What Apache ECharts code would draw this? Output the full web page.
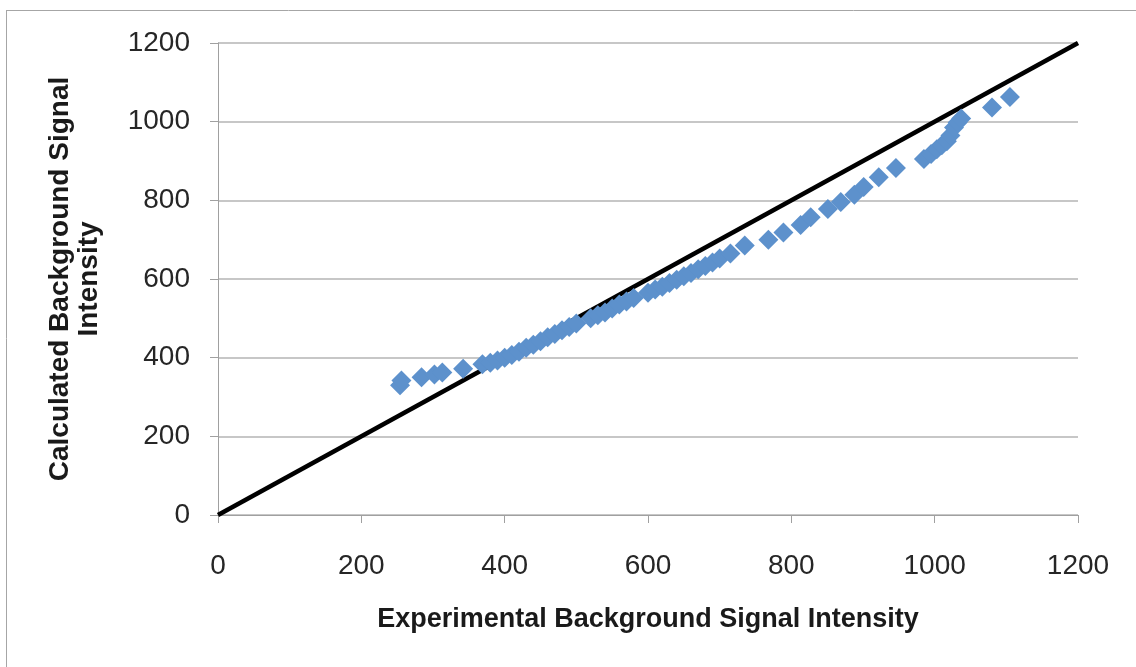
<!DOCTYPE html>
<html>
<head>
<meta charset="utf-8">
<script src="https://cdn.jsdelivr.net/npm/echarts@6/dist/echarts.min.js"></script>
<style>html,body{margin:0;padding:0;background:#fff}#c{width:1136px;height:667px}</style>
</head>
<body>
<div id="c"></div>
<script>
const xTicks = [0, 200, 400, 600, 800, 1000, 1200];
const yTicks = [0, 200, 400, 600, 800, 1000, 1200];
const expX = [254, 256, 284, 302, 313, 342, 369, 380, 390, 400, 410, 420, 430, 440, 450, 460, 470, 480, 490, 500,
  520, 530, 540, 550, 560, 570, 580, 600, 610, 620, 630, 640, 650, 660, 670, 680, 690, 700, 715, 735,
  768, 789, 813, 827, 851, 869, 888, 901, 922, 946, 985, 995, 1003, 1010, 1017, 1022, 1027, 1032, 1037, 1080, 1105];
const calcY = [330, 342, 350, 357, 362, 372, 383, 387, 393, 400, 407, 415, 425, 433, 442, 452, 460, 470, 478, 487,
  500, 508, 515, 525, 535, 543, 552, 565, 573, 580, 590, 598, 607, 615, 625, 633, 642, 652, 665, 685,
  700, 718, 737, 757, 778, 796, 814, 834, 859, 882, 905, 918, 930, 940, 950, 965, 985, 998, 1008, 1036, 1063];
const refLine = [[0, 0], [1200, 1200]];

const chart = echarts.init(document.getElementById('c'));
const font = 'Liberation Sans, Arial, sans-serif';
chart.setOption({
  animation: false,
  backgroundColor: '#fff',
  grid: { left: 218, right: 58, top: 43, bottom: 152 },
  graphic: [
    { type: 'line', shape: { x1: 6, y1: 10.5, x2: 1136, y2: 10.5 }, style: { stroke: '#a6a6a6', lineWidth: 1 } },
    { type: 'line', shape: { x1: 6.5, y1: 10, x2: 6.5, y2: 667 }, style: { stroke: '#a6a6a6', lineWidth: 1 } }
  ],
  xAxis: {
    type: 'value', min: 0, max: 1200, interval: 200,
    name: 'Experimental Background Signal Intensity',
    nameLocation: 'middle', nameGap: 91,
    nameTextStyle: { fontFamily: font, fontSize: 27, fontWeight: 'bold', color: '#1a1a1a' },
    axisLine: { show: true, lineStyle: { color: '#a0a0a0', width: 1 } },
    axisTick: { show: true, length: 8, lineStyle: { color: '#a0a0a0' } },
    axisLabel: { fontFamily: font, fontSize: 28, color: '#262626', margin: 37,
      formatter: v => xTicks.includes(v) ? String(v) : '' },
    splitLine: { show: false }
  },
  yAxis: {
    type: 'value', min: 0, max: 1200, interval: 200,
    name: 'Calculated Background Signal\nIntensity',
    nameLocation: 'middle', nameGap: 114, nameRotate: 90,
    nameTextStyle: { fontFamily: font, fontSize: 28, fontWeight: 'bold', color: '#1a1a1a', lineHeight: 29 },
    axisLine: { show: true, lineStyle: { color: '#a0a0a0', width: 1 } },
    axisTick: { show: true, length: 8, lineStyle: { color: '#a0a0a0' } },
    axisLabel: { fontFamily: font, fontSize: 28, color: '#262626', margin: 28,
      formatter: v => yTicks.includes(v) ? String(v) : '' },
    splitLine: { show: true, lineStyle: { color: '#b4b4b4', width: 1.5 } }
  },
  series: [
    {
      type: 'line', data: refLine, symbol: 'none', z: 2,
      lineStyle: { color: '#000', width: 4.5 }
    },
    {
      type: 'scatter', data: expX.map((x, i) => [x, calcY[i]]), z: 3,
      symbol: 'diamond', symbolSize: [20, 20],
      itemStyle: { color: '#5d91cc', opacity: 1 }
    }
  ]
});
</script>
</body>
</html>
